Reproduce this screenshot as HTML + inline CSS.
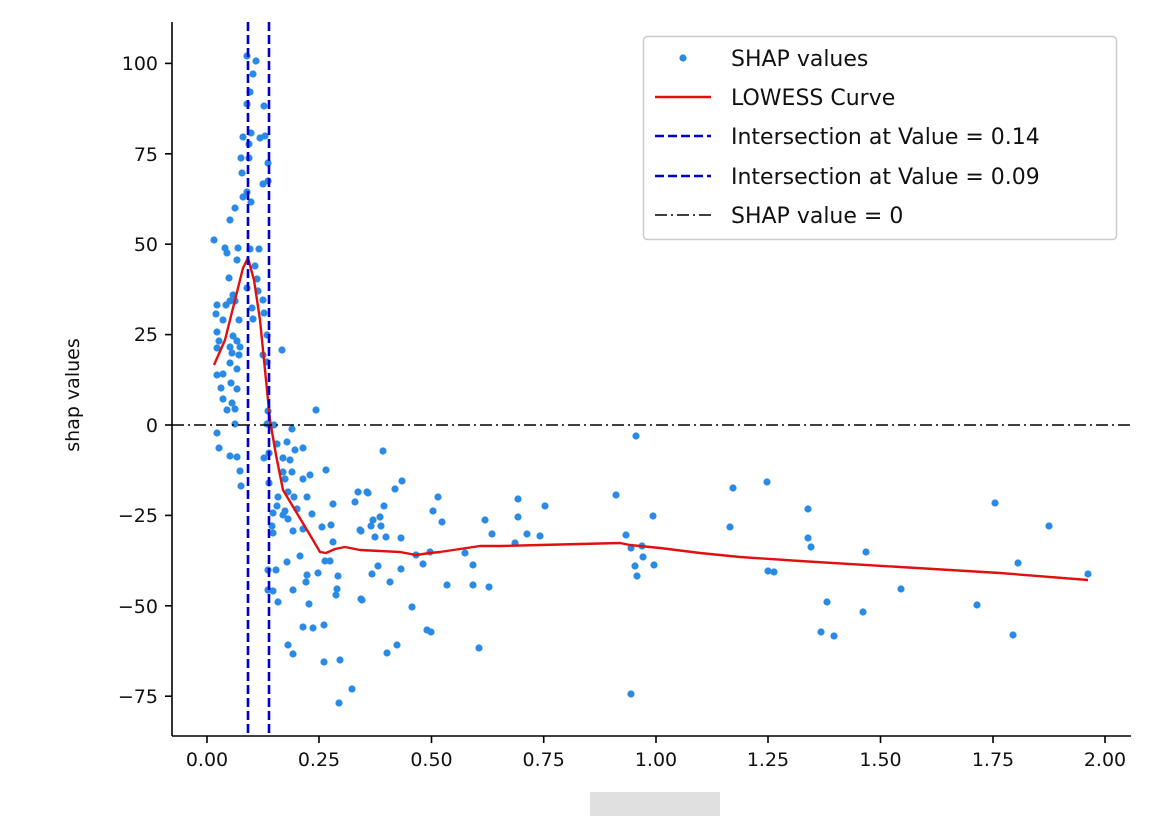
<!DOCTYPE html>
<html><head><meta charset="utf-8"><style>
html,body{margin:0;padding:0;background:#fff;}
svg{display:block;font-family:"DejaVu Sans","Liberation Sans",sans-serif;}
</style></head><body>
<svg width="1176" height="832" viewBox="0 0 1176 832" xmlns="http://www.w3.org/2000/svg">
<rect width="1176" height="832" fill="#fff"/>
<g fill="#2a8be6">
<circle cx="247" cy="56" r="3.6"/><circle cx="256" cy="61" r="3.6"/><circle cx="253" cy="74" r="3.6"/><circle cx="250" cy="92" r="3.6"/><circle cx="247" cy="104" r="3.6"/><circle cx="264" cy="106" r="3.6"/><circle cx="243" cy="137" r="3.6"/><circle cx="251" cy="133" r="3.6"/><circle cx="249" cy="144" r="3.6"/><circle cx="260" cy="138" r="3.6"/><circle cx="265" cy="136" r="3.6"/><circle cx="241" cy="158" r="3.6"/><circle cx="249" cy="158" r="3.6"/><circle cx="268" cy="163" r="3.6"/><circle cx="242" cy="173" r="3.6"/><circle cx="263" cy="184" r="3.6"/><circle cx="268" cy="181" r="3.6"/><circle cx="247" cy="192" r="3.6"/><circle cx="243" cy="197" r="3.6"/><circle cx="251" cy="202" r="3.6"/><circle cx="235" cy="208" r="3.6"/><circle cx="230" cy="220" r="3.6"/><circle cx="214" cy="240" r="3.6"/><circle cx="225" cy="248" r="3.6"/><circle cx="227" cy="253" r="3.6"/><circle cx="238" cy="248" r="3.6"/><circle cx="250" cy="249" r="3.6"/><circle cx="259" cy="249" r="3.6"/><circle cx="237" cy="260" r="3.6"/><circle cx="255" cy="266" r="3.6"/><circle cx="229" cy="278" r="3.6"/><circle cx="257" cy="279" r="3.6"/><circle cx="247" cy="288" r="3.6"/><circle cx="258" cy="291" r="3.6"/><circle cx="233" cy="295" r="3.6"/><circle cx="230" cy="301" r="3.6"/><circle cx="263" cy="300" r="3.6"/><circle cx="217" cy="305" r="3.6"/><circle cx="226" cy="305" r="3.6"/><circle cx="235" cy="301" r="3.6"/><circle cx="252" cy="308" r="3.6"/><circle cx="216" cy="314" r="3.6"/><circle cx="264" cy="313" r="3.6"/><circle cx="253" cy="319" r="3.6"/><circle cx="223" cy="320" r="3.6"/><circle cx="239" cy="320" r="3.6"/><circle cx="217" cy="332" r="3.6"/><circle cx="233" cy="336" r="3.6"/><circle cx="267" cy="335" r="3.6"/><circle cx="219" cy="341" r="3.6"/><circle cx="237" cy="341" r="3.6"/><circle cx="230" cy="347" r="3.6"/><circle cx="240" cy="347" r="3.6"/><circle cx="282" cy="350" r="3.6"/><circle cx="217" cy="348" r="3.6"/><circle cx="232" cy="353" r="3.6"/><circle cx="239" cy="355" r="3.6"/><circle cx="263" cy="355" r="3.6"/><circle cx="230" cy="363" r="3.6"/><circle cx="237" cy="369" r="3.6"/><circle cx="267" cy="362" r="3.6"/><circle cx="217" cy="375" r="3.6"/><circle cx="223" cy="374" r="3.6"/><circle cx="221" cy="388" r="3.6"/><circle cx="231" cy="383" r="3.6"/><circle cx="237" cy="389" r="3.6"/><circle cx="223" cy="399" r="3.6"/><circle cx="232" cy="403" r="3.6"/><circle cx="227" cy="410" r="3.6"/><circle cx="235" cy="409" r="3.6"/><circle cx="268" cy="411" r="3.6"/><circle cx="316" cy="410" r="3.6"/><circle cx="235" cy="424" r="3.6"/><circle cx="267" cy="424" r="3.6"/><circle cx="274" cy="425" r="3.6"/><circle cx="292" cy="429" r="3.6"/><circle cx="217" cy="433" r="3.6"/><circle cx="219" cy="448" r="3.6"/><circle cx="277" cy="444" r="3.6"/><circle cx="287" cy="442" r="3.6"/><circle cx="295" cy="450" r="3.6"/><circle cx="303" cy="448" r="3.6"/><circle cx="230" cy="456" r="3.6"/><circle cx="237" cy="457" r="3.6"/><circle cx="264" cy="458" r="3.6"/><circle cx="269" cy="453" r="3.6"/><circle cx="283" cy="458" r="3.6"/><circle cx="290" cy="460" r="3.6"/><circle cx="240" cy="471" r="3.6"/><circle cx="283" cy="472" r="3.6"/><circle cx="292" cy="472" r="3.6"/><circle cx="326" cy="470" r="3.6"/><circle cx="285" cy="479" r="3.6"/><circle cx="303" cy="479" r="3.6"/><circle cx="310" cy="475" r="3.6"/><circle cx="269" cy="483" r="3.6"/><circle cx="241" cy="486" r="3.6"/><circle cx="278" cy="497" r="3.6"/><circle cx="288" cy="492" r="3.6"/><circle cx="294" cy="497" r="3.6"/><circle cx="307" cy="497" r="3.6"/><circle cx="358" cy="492" r="3.6"/><circle cx="367" cy="492" r="3.6"/><circle cx="277" cy="506" r="3.6"/><circle cx="285" cy="511" r="3.6"/><circle cx="297" cy="509" r="3.6"/><circle cx="333" cy="504" r="3.6"/><circle cx="355" cy="502" r="3.6"/><circle cx="273" cy="513" r="3.6"/><circle cx="283" cy="515" r="3.6"/><circle cx="288" cy="519" r="3.6"/><circle cx="312" cy="514" r="3.6"/><circle cx="272" cy="526" r="3.6"/><circle cx="293" cy="531" r="3.6"/><circle cx="303" cy="529" r="3.6"/><circle cx="322" cy="527" r="3.6"/><circle cx="331" cy="525" r="3.6"/><circle cx="360" cy="530" r="3.6"/><circle cx="273" cy="533" r="3.6"/><circle cx="333" cy="542" r="3.6"/><circle cx="300" cy="556" r="3.6"/><circle cx="325" cy="561" r="3.6"/><circle cx="330" cy="561" r="3.6"/><circle cx="287" cy="562" r="3.6"/><circle cx="268" cy="570" r="3.6"/><circle cx="276" cy="570" r="3.6"/><circle cx="307" cy="575" r="3.6"/><circle cx="318" cy="573" r="3.6"/><circle cx="338" cy="576" r="3.6"/><circle cx="306" cy="582" r="3.6"/><circle cx="337" cy="589" r="3.6"/><circle cx="268" cy="590" r="3.6"/><circle cx="273" cy="591" r="3.6"/><circle cx="293" cy="590" r="3.6"/><circle cx="336" cy="595" r="3.6"/><circle cx="361" cy="599" r="3.6"/><circle cx="278" cy="602" r="3.6"/><circle cx="309" cy="604" r="3.6"/><circle cx="303" cy="627" r="3.6"/><circle cx="313" cy="628" r="3.6"/><circle cx="324" cy="625" r="3.6"/><circle cx="288" cy="645" r="3.6"/><circle cx="293" cy="654" r="3.6"/><circle cx="324" cy="662" r="3.6"/><circle cx="340" cy="660" r="3.6"/><circle cx="352" cy="689" r="3.6"/><circle cx="339" cy="703" r="3.6"/>
<circle cx="383" cy="451" r="3.6"/><circle cx="368" cy="493" r="3.6"/><circle cx="395" cy="489" r="3.6"/><circle cx="402" cy="481" r="3.6"/><circle cx="384" cy="506" r="3.6"/><circle cx="373" cy="520" r="3.6"/><circle cx="380" cy="517" r="3.6"/><circle cx="371" cy="526" r="3.6"/><circle cx="381" cy="526" r="3.6"/><circle cx="361" cy="531" r="3.6"/><circle cx="375" cy="537" r="3.6"/><circle cx="386" cy="537" r="3.6"/><circle cx="401" cy="538" r="3.6"/><circle cx="378" cy="566" r="3.6"/><circle cx="372" cy="574" r="3.6"/><circle cx="401" cy="569" r="3.6"/><circle cx="390" cy="582" r="3.6"/><circle cx="362" cy="600" r="3.6"/><circle cx="412" cy="607" r="3.6"/><circle cx="438" cy="497" r="3.6"/><circle cx="433" cy="511" r="3.6"/><circle cx="442" cy="522" r="3.6"/><circle cx="416" cy="555" r="3.6"/><circle cx="430" cy="552" r="3.6"/><circle cx="423" cy="564" r="3.6"/><circle cx="447" cy="585" r="3.6"/><circle cx="427" cy="630" r="3.6"/><circle cx="431" cy="632" r="3.6"/><circle cx="397" cy="645" r="3.6"/><circle cx="387" cy="653" r="3.6"/><circle cx="485" cy="520" r="3.6"/><circle cx="492" cy="534" r="3.6"/><circle cx="465" cy="553" r="3.6"/><circle cx="473" cy="565" r="3.6"/><circle cx="473" cy="585" r="3.6"/><circle cx="489" cy="587" r="3.6"/><circle cx="479" cy="648" r="3.6"/><circle cx="518" cy="499" r="3.6"/><circle cx="518" cy="517" r="3.6"/><circle cx="527" cy="534" r="3.6"/><circle cx="545" cy="506" r="3.6"/><circle cx="540" cy="536" r="3.6"/><circle cx="515" cy="543" r="3.6"/><circle cx="616" cy="495" r="3.6"/><circle cx="636" cy="436" r="3.6"/><circle cx="653" cy="516" r="3.6"/><circle cx="626" cy="535" r="3.6"/><circle cx="631" cy="548" r="3.6"/><circle cx="642" cy="546" r="3.6"/><circle cx="643" cy="557" r="3.6"/><circle cx="635" cy="566" r="3.6"/><circle cx="654" cy="565" r="3.6"/><circle cx="637" cy="576" r="3.6"/><circle cx="631" cy="694" r="3.6"/>
<circle cx="733" cy="488" r="3.6"/><circle cx="730" cy="527" r="3.6"/><circle cx="767" cy="482" r="3.6"/><circle cx="768" cy="571" r="3.6"/><circle cx="774" cy="572" r="3.6"/><circle cx="808" cy="509" r="3.6"/><circle cx="808" cy="538" r="3.6"/><circle cx="811" cy="547" r="3.6"/><circle cx="827" cy="602" r="3.6"/><circle cx="821" cy="632" r="3.6"/><circle cx="834" cy="636" r="3.6"/><circle cx="866" cy="552" r="3.6"/><circle cx="863" cy="612" r="3.6"/><circle cx="901" cy="589" r="3.6"/><circle cx="977" cy="605" r="3.6"/><circle cx="995" cy="503" r="3.6"/><circle cx="1013" cy="635" r="3.6"/><circle cx="1018" cy="563" r="3.6"/><circle cx="1049" cy="526" r="3.6"/><circle cx="1088" cy="574" r="3.6"/>
</g>
<polyline fill="none" stroke="#e01010" stroke-width="2.4" stroke-linejoin="round" points="214,365 225,340 235,300 243,268 248,258 254,280 260,320 265,370 270,420 276,455 283,490 295,510 310,535 320,552 326,553 335,549 345,547 360,550 380,551 400,552 416,555 430,553 440,552 460,549 480,546 500,546 540,545 580,544 620,543 630,545 660,548 700,553 740,557 800,561 900,567 1000,573 1088,580"/>
<line x1="248" y1="22" x2="248" y2="736" stroke="#0000cc" stroke-width="2.6" stroke-dasharray="9,4"/>
<line x1="269" y1="22" x2="269" y2="736" stroke="#0000cc" stroke-width="2.6" stroke-dasharray="9,4"/>
<line x1="172" y1="425" x2="1130" y2="425" stroke="#000" stroke-width="1.6" stroke-dasharray="12,4,2,4"/>
<g stroke="#000" stroke-width="1.6">
<line x1="172" y1="22" x2="172" y2="736"/><line x1="172" y1="736" x2="1131" y2="736"/>
<line x1="165" y1="63.4" x2="172" y2="63.4"/><line x1="165" y1="153.8" x2="172" y2="153.8"/><line x1="165" y1="244.2" x2="172" y2="244.2"/><line x1="165" y1="334.6" x2="172" y2="334.6"/><line x1="165" y1="425" x2="172" y2="425"/><line x1="165" y1="515.4" x2="172" y2="515.4"/><line x1="165" y1="605.8" x2="172" y2="605.8"/><line x1="165" y1="696.2" x2="172" y2="696.2"/>
<line x1="207" y1="736" x2="207" y2="743"/><line x1="319" y1="736" x2="319" y2="743"/><line x1="431.5" y1="736" x2="431.5" y2="743"/><line x1="543.7" y1="736" x2="543.7" y2="743"/><line x1="656" y1="736" x2="656" y2="743"/><line x1="768" y1="736" x2="768" y2="743"/><line x1="880.5" y1="736" x2="880.5" y2="743"/><line x1="993" y1="736" x2="993" y2="743"/><line x1="1105" y1="736" x2="1105" y2="743"/>
</g>
<g font-size="19" fill="#111" text-anchor="end">
<text x="158" y="70">100</text><text x="158" y="161">75</text><text x="158" y="251">50</text><text x="158" y="341">25</text><text x="158" y="432">0</text><text x="158" y="522">−25</text><text x="158" y="613">−50</text><text x="158" y="703">−75</text>
</g>
<g font-size="19" fill="#111" text-anchor="middle">
<text x="207" y="766">0.00</text><text x="319" y="766">0.25</text><text x="431.5" y="766">0.50</text><text x="543.7" y="766">0.75</text><text x="656" y="766">1.00</text><text x="768" y="766">1.25</text><text x="880.5" y="766">1.50</text><text x="993" y="766">1.75</text><text x="1105" y="766">2.00</text>
</g>
<text x="79" y="395" font-size="19" fill="#111" text-anchor="middle" transform="rotate(-90 79 395)">shap values</text>
<rect x="590" y="792" width="130" height="24" fill="#d8d8d8" opacity="0.8"/>
<rect x="643.5" y="36.5" width="473" height="203" rx="4" fill="#fff" stroke="#ccc" stroke-width="1.5"/>
<circle cx="683" cy="58" r="3.6" fill="#2a8be6"/>
<line x1="655" y1="97" x2="711" y2="97" stroke="#e01010" stroke-width="2.4"/>
<line x1="655" y1="136" x2="711" y2="136" stroke="#0000cc" stroke-width="2.6" stroke-dasharray="9,4"/>
<line x1="655" y1="176" x2="711" y2="176" stroke="#0000cc" stroke-width="2.6" stroke-dasharray="9,4"/>
<line x1="655" y1="215" x2="711" y2="215" stroke="#000" stroke-width="1.6" stroke-dasharray="12,4,2,4"/>
<g font-size="22" fill="#111">
<text x="731" y="66">SHAP values</text>
<text x="731" y="105">LOWESS Curve</text>
<text x="731" y="144">Intersection at Value = 0.14</text>
<text x="731" y="184">Intersection at Value = 0.09</text>
<text x="731" y="223">SHAP value = 0</text>
</g>
</svg>
</body></html>
